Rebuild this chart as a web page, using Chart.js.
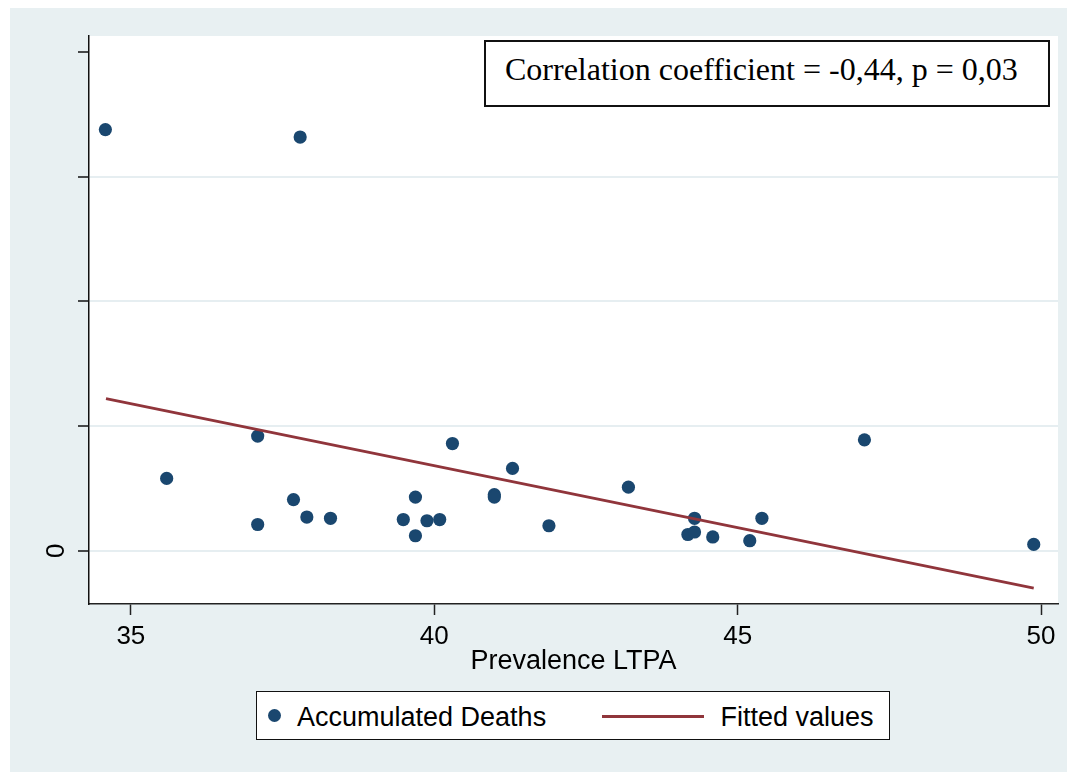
<!DOCTYPE html>
<html lang="en">
<head>
  <meta charset="UTF-8" />
  <title>Accumulated Deaths vs Prevalence LTPA</title>
  <script src="https://cdn.jsdelivr.net/npm/chart.js"></script>
  <style>
    html, body { margin: 0; padding: 0; background: #fff; }
    .page { position: relative; width: 1076px; height: 773px; overflow: hidden; }
    .panel { position: absolute; left: 10px; top: 8px; width: 1057px; height: 764px; background: #e8f0f2; }
    canvas { position: absolute; left: 0; top: 0; }
    .corr-box {
      position: absolute; left: 484px; top: 40px; width: 562px; height: 63px;
      border: 2px solid #111; background: #fff;
    }
    .corr-text {
      position: absolute; left: 505px; top: 51px; line-height: 36px;
      font-family: "Liberation Serif", "Times New Roman", serif; font-size: 32px; color: #000;
      white-space: nowrap;
    }
    .legend-box {
      position: absolute; left: 256px; top: 691px; width: 632px; height: 47px;
      border: 1.5px solid #111; background: #fff;
    }
    .lg-text {
      position: absolute; line-height: 31px; top: 702px;
      font-family: "Liberation Sans", Arial, sans-serif; font-size: 27px; color: #000; white-space: nowrap;
    }
    .lg-dot { position: absolute; left: 267.7px; top: 709.2px; width: 13.2px; height: 13.2px; border-radius: 50%; background: #1a476f; }
    .lg-line { position: absolute; left: 602px; top: 715.4px; width: 102px; height: 2.7px; background: #90353b; }
  </style>
</head>
<body>
  <div class="page">
    <div class="panel"></div>
    <canvas id="scatterChart" width="1076" height="773"></canvas>

    <div class="corr-box"></div>
    <div class="corr-text">Correlation coefficient = -0,44, p = 0,03</div>

    <div class="legend-box"></div>
    <div class="lg-dot"></div>
    <div class="lg-text" style="left: 297px;">Accumulated Deaths</div>
    <div class="lg-line"></div>
    <div class="lg-text" style="left: 720.5px;">Fitted values</div>
  </div>

  <script>
    // data (y has no unit labels except 0)
    const ltpa = [34.58, 37.79, 35.59, 37.09, 37.09, 37.68, 37.90, 38.29, 39.49, 39.69, 39.69, 39.88, 40.09, 40.30,
                  40.99, 40.99, 41.29, 41.89, 43.20, 44.18, 44.29, 44.29, 44.59, 45.20, 45.40, 47.09, 49.88];
    const deaths = [3.38, 3.32, 0.58, 0.92, 0.21, 0.41, 0.27, 0.26, 0.25, 0.43, 0.12, 0.24, 0.25, 0.86,
                    0.45, 0.43, 0.66, 0.20, 0.51, 0.13, 0.26, 0.15, 0.11, 0.08, 0.26, 0.89, 0.05];
    const fitX = [34.59, 49.88];
    const fitY = [1.22, -0.30];

    const xTicks = [35, 40, 45, 50];
    const yTicks = [0, 1, 2, 3, 4];
    const yTickLabels = ['0', '', '', '', ''];

    Chart.defaults.font.family = '"Liberation Sans", Arial, sans-serif';
    Chart.defaults.color = '#000';

    // white plot region + the rotated y label
    const plotBg = {
      id: 'plotBg',
      beforeDraw(chart) {
        const { ctx, chartArea: a } = chart;
        ctx.save();
        ctx.fillStyle = '#fff';
        ctx.fillRect(a.left, a.top, a.right - a.left, a.bottom - a.top);
        ctx.restore();
      },
      afterDraw(chart) {
        const { ctx } = chart;
        const y = chart.scales.y;
        ctx.save();
        ctx.font = '26px "Liberation Sans", Arial, sans-serif';
        ctx.fillStyle = '#000';
        ctx.textAlign = 'center';
        ctx.textBaseline = 'middle';
        yTicks.forEach((v, i) => {
          if (!yTickLabels[i]) return;
          ctx.save();
          ctx.translate(57, y.getPixelForValue(v));
          ctx.rotate(-Math.PI / 2);
          ctx.fillText(yTickLabels[i], 0, 0);
          ctx.restore();
        });
        ctx.restore();
      }
    };

    new Chart(document.getElementById('scatterChart'), {
      type: 'scatter',
      data: {
        datasets: [
          {
            type: 'line',
            label: 'Fitted values',
            data: fitX.map((x, i) => ({ x: x, y: fitY[i] })),
            borderColor: '#90353b',
            borderWidth: 2.7,
            pointRadius: 0,
            fill: false,
            order: 0
          },
          {
            label: 'Accumulated Deaths',
            data: ltpa.map((x, i) => ({ x: x, y: deaths[i] })),
            backgroundColor: '#1a476f',
            borderWidth: 0,
            pointRadius: 6.6,
            order: 1
          }
        ]
      },
      options: {
        responsive: false,
        animation: false,
        layout: { padding: { left: 0, top: 36, right: 18, bottom: 93 } },
        plugins: { legend: { display: false }, tooltip: { enabled: false } },
        scales: {
          x: {
            type: 'linear',
            min: 34.31,
            max: 50.28,
            afterBuildTicks: s => { s.ticks = xTicks.map(v => ({ value: v })); },
            afterFit: s => { s.height = 76; },
            ticks: { font: { size: 26 }, padding: 6, maxRotation: 0, color: '#000' },
            grid: { drawOnChartArea: false, drawTicks: true, tickLength: 11, tickColor: '#222', tickWidth: 1.5 },
            border: { color: '#222', width: 1.5 },
            title: {
              display: true,
              text: 'Prevalence LTPA',
              font: { size: 27 },
              color: '#000',
              padding: { top: 0, bottom: 2 }
            }
          },
          y: {
            type: 'linear',
            min: -0.428,
            max: 4.131,
            afterBuildTicks: s => { s.ticks = yTicks.map(v => ({ value: v })); },
            afterFit: s => { s.width = 89; },
            ticks: { callback: () => '', padding: 0 },
            grid: {
              color: c => (c.tick && c.tick.value === 4) ? 'rgba(0,0,0,0)' : '#e6eef1',
              lineWidth: 2,
              drawTicks: true,
              tickLength: 11,
              tickColor: '#111',
              tickWidth: 1.5
            },
            border: { color: '#111', width: 1.5 }
          }
        }
      },
      plugins: [plotBg]
    });
  </script>
</body>
</html>
